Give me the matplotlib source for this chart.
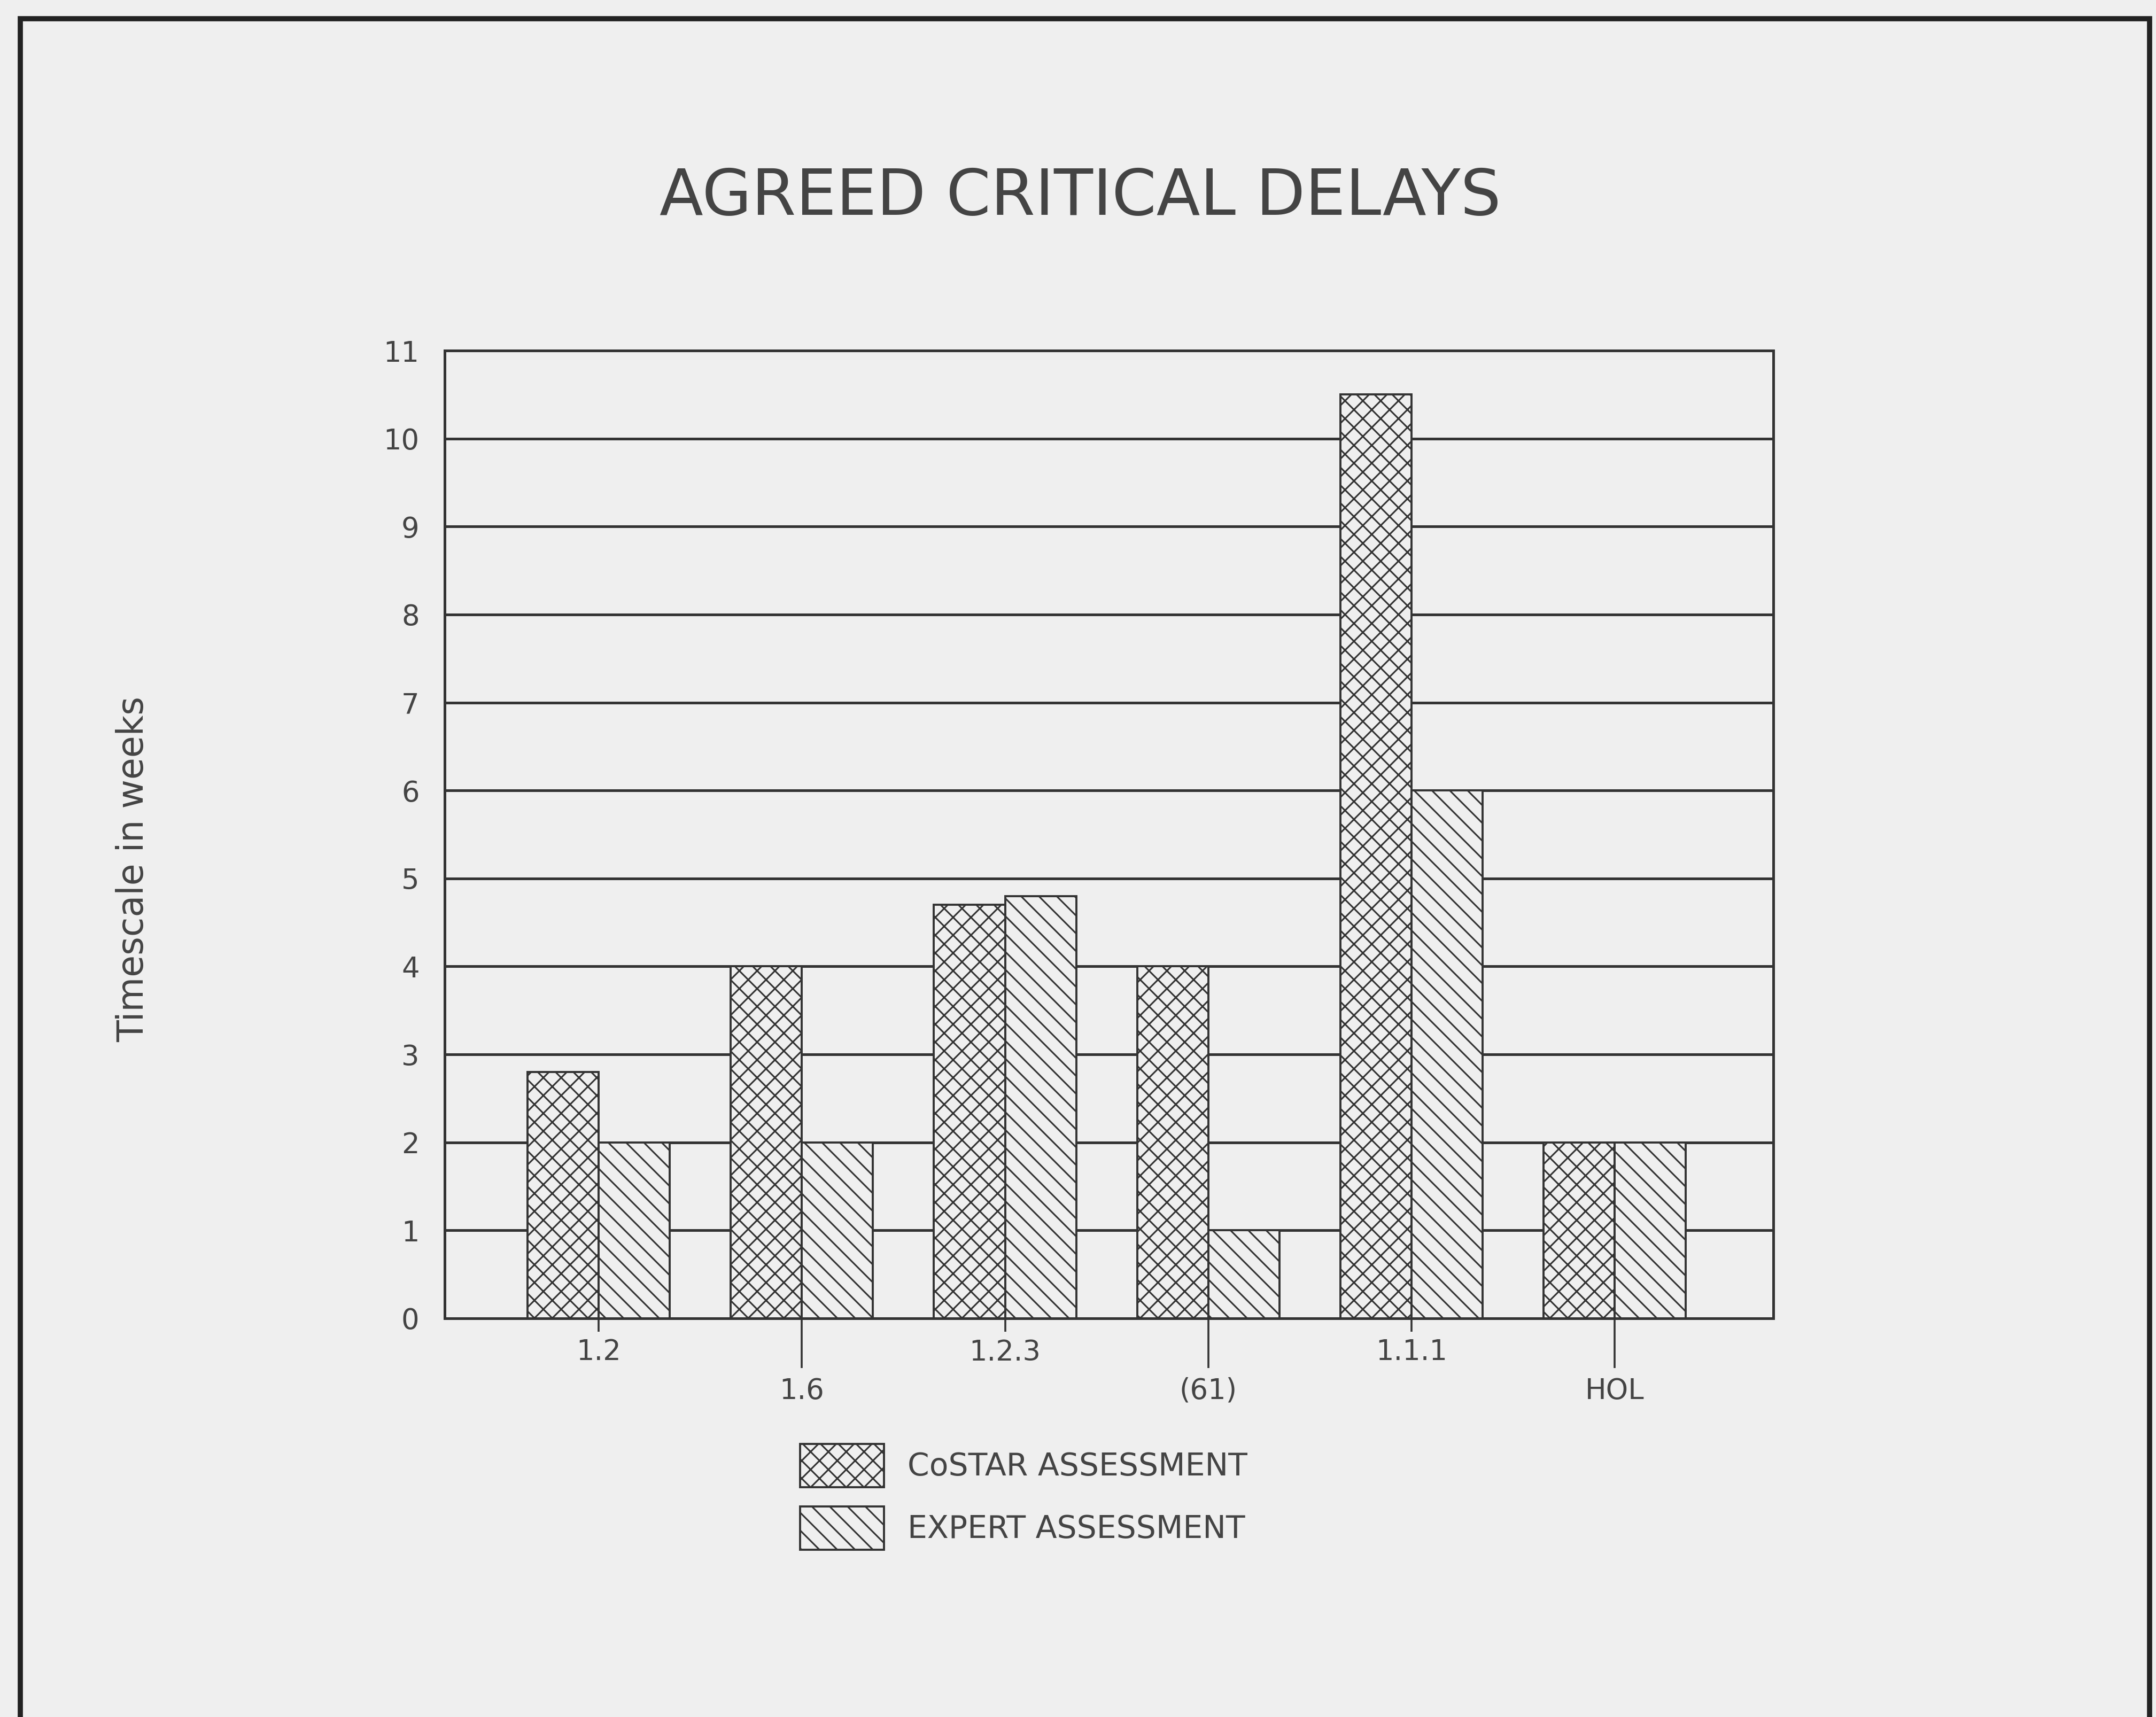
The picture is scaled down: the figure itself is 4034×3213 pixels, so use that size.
import numpy as np
import matplotlib
matplotlib.use("Agg")
import matplotlib.pyplot as plt
from matplotlib.patches import Rectangle

# data (weeks)
categories = ["1.2", "1.6", "1.2.3", "(61)", "1.1.1", "HOL"]
costar = [2.8, 4.0, 4.7, 4.0, 10.5, 2.0]
expert = [2.0, 2.0, 4.8, 1.0, 6.0, 2.0]
y_ticks = list(range(0, 12))

PAPER = "#efefef"
INK = "#333333"
TXT = "#444444"

plt.rcParams["font.family"] = ["DejaVu Sans"]
plt.rcParams["hatch.linewidth"] = 1.1
plt.rcParams["hatch.color"] = INK

fig = plt.figure(figsize=(20.17, 16.065), dpi=200, facecolor=PAPER)
ax = fig.add_axes([0.2062, 0.2322, 0.8225 - 0.2062, 0.7958 - 0.2322])
ax.set_facecolor(PAPER)

x = np.arange(len(categories))
w = 0.35
ax.bar(x - w / 2, costar, w, facecolor=PAPER, edgecolor=INK, hatch="xx",
       linewidth=1.4, label="CoSTAR ASSESSMENT", zorder=3)
ax.bar(x + w / 2, expert, w, facecolor=PAPER, edgecolor=INK, hatch="\\\\",
       linewidth=1.4, label="EXPERT ASSESSMENT", zorder=3)

ax.set_xlim(-0.758, 5.78)
ax.set_ylim(0, 11)
ax.set_yticks(y_ticks)
ax.yaxis.grid(True, color=INK, linewidth=1.8, zorder=1)
ax.set_axisbelow(True)
ax.tick_params(axis="y", length=0, pad=17, labelsize=19, labelcolor=TXT)

# alternating two-row category labels
ax.set_xticks(x[::2], labels=categories[::2])
ax.set_xticks(x[1::2], labels=categories[1::2], minor=True)
ax.tick_params(axis="x", which="major", length=9, width=1.3, color=INK,
               pad=4.5, labelsize=19, labelcolor=TXT)
ax.tick_params(axis="x", which="minor", length=33.5, width=1.3, color=INK,
               pad=6, labelsize=19, labelcolor=TXT)

for s in ax.spines.values():
    s.set_color(INK)
    s.set_linewidth(1.8)

ax.set_ylabel("Timescale in weeks", fontsize=24, color=TXT)
ax.yaxis.set_label_coords(-0.221, 0.464)

fig.text(0.501, 0.885, "AGREED CRITICAL DELAYS", ha="center", va="center",
         fontsize=43, color=TXT)

leg = fig.legend(loc="upper left", bbox_to_anchor=(0.371, 0.159),
                 frameon=False, fontsize=21, handlelength=2.7,
                 handleheight=1.75, handletextpad=0.75, labelspacing=0.62,
                 borderpad=0, borderaxespad=0)
for t in leg.get_texts():
    t.set_color(TXT)

# page frame around the figure
fig.patches.append(Rectangle((0.0094, -0.02), 0.9876, 1.009, transform=fig.transFigure,
                             fill=False, edgecolor="#222222", linewidth=3.5))

fig.savefig("out.png", dpi=200, facecolor=PAPER)
